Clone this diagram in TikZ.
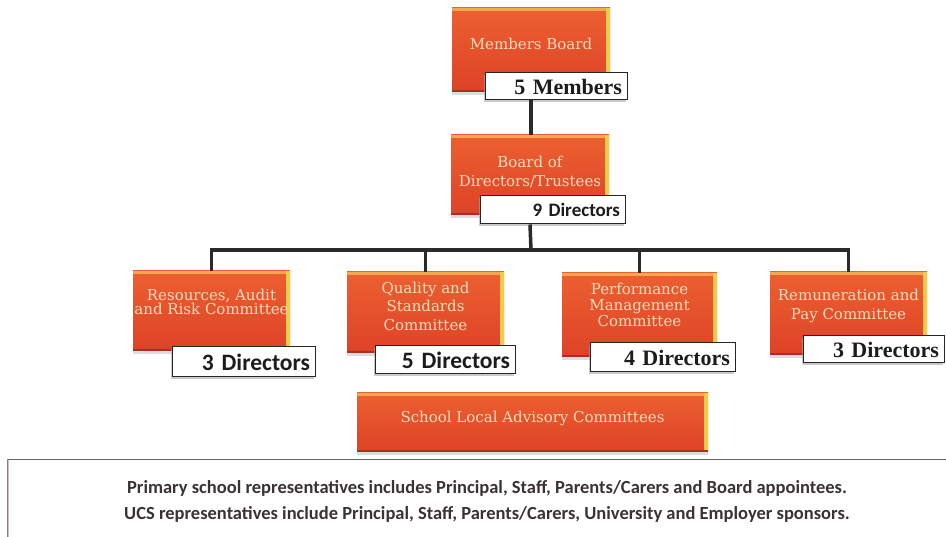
\documentclass[tikz,border=0pt]{standalone}
\usepackage{fontspec}
\setmainfont{Carlito}
\newfontfamily\boxfont{DejaVu Serif}
\newfontfamily\serifl{Liberation Serif}
\newfontfamily\sansl{Carlito}
\usetikzlibrary{shadows}
\definecolor{boxtop}{HTML}{EC6030}
\definecolor{boxbot}{HTML}{DE4227}
\definecolor{boxhi}{HTML}{F7A650}
\definecolor{boxedge}{HTML}{F2CC48}
\definecolor{boxtxt}{HTML}{F5DDBB}
\definecolor{linec}{HTML}{2A2A2A}
\definecolor{labtxt}{HTML}{1C1C1C}
\definecolor{notetxt}{HTML}{3A3333}
\begin{document}
\begin{tikzpicture}[x=1pt,y=-1pt,
  orangebox/.style={rectangle, inner sep=0pt, top color=boxtop, bottom color=boxbot,
    drop shadow={shadow xshift=0pt, shadow yshift=-3pt, fill=blue!15!gray!45, opacity=0.55},
    path picture={
      \fill[boxhi] (path picture bounding box.north west) rectangle ([yshift=-3pt]path picture bounding box.north east);
      \fill[boxedge] ([xshift=-4pt]path picture bounding box.north east) rectangle (path picture bounding box.south east);
      \fill[black!25!boxbot] (path picture bounding box.south west) rectangle ([yshift=2pt]path picture bounding box.south east);
    }},
  boxtext/.style={inner sep=0pt, align=center, text=boxtxt, font=\boxfont\fontsize{15}{18}\selectfont},
  labelbox/.style={rectangle, fill=white, draw=black!85, line width=1pt, inner ysep=0pt, inner xsep=5pt,
    align=right, text=labtxt,
    drop shadow={shadow xshift=-1.5pt, shadow yshift=-2.5pt, fill=black!35, opacity=0.6}},
  labsans/.style={font=\sansl\bfseries\fontsize{23.5}{23.5}\selectfont},
  labserif/.style={font=\serifl\bfseries\fontsize{22}{22}\selectfont},
  conn/.style={draw=linec, line width=3.5pt},
  notebox/.style={rectangle, fill=white, draw=gray!45, line width=1pt, align=center, text=notetxt,
    font=\sansl\bfseries\fontsize{18.5}{26}\selectfont}
]
\useasboundingbox (0,0) rectangle (946,537);

% Members Board
\node[orangebox, minimum width=158pt, minimum height=84pt] (mb) at (531,50) {};
\node[boxtext] (mbt) at (531,44) {Members Board};
\node[labelbox, labserif, minimum width=142pt, text width=132pt, minimum height=27pt] (mbl) at (556,86.5) {5 Members};

% Board of Directors
\node[orangebox, minimum width=158pt, minimum height=80pt] (bd) at (530,175) {};
\node[boxtext] (bdt) at (530,172) {Board of\\Directors/Trustees};
\node[labelbox, font=\sansl\bfseries\fontsize{19}{19}\selectfont, minimum width=145pt, text width=135pt, minimum height=28pt] (bdl) at (552.5,210) {9 Directors};

% Committees
\node[orangebox, minimum width=157pt, minimum height=80pt] (rac) at (211.5,311) {};
\node[boxtext, font=\boxfont\fontsize{15}{14.5}\selectfont] (ract) at (211.5,302) {Resources, Audit\\and Risk Committee};
\node[labelbox, labsans, minimum width=143pt, text width=133pt, minimum height=30pt] (racl) at (243.5,362) {3 Directors};

\node[orangebox, minimum width=157pt, minimum height=81pt] (qsc) at (425.5,312.5) {};
\node[boxtext, font=\boxfont\fontsize{15}{18.5}\selectfont] (qsct) at (425.5,306) {Quality and\\Standards\\Committee};
\node[labelbox, labsans, minimum width=140pt, text width=130pt, minimum height=28pt] (qscl) at (445,360) {5 Directors};

\node[orangebox, minimum width=155pt, minimum height=84pt] (pmc) at (639.5,315) {};
\node[boxtext, font=\boxfont\fontsize{15}{16}\selectfont] (pmct) at (639.5,305) {Performance\\Management\\Committee};
\node[labelbox, labserif, minimum width=145pt, text width=135pt, minimum height=29pt] (pmcl) at (662.5,357.5) {4 Directors};

\node[orangebox, minimum width=157pt, minimum height=83pt] (rpc) at (848.5,313.5) {};
\node[boxtext, font=\boxfont\fontsize{15}{19}\selectfont] (rpct) at (848.5,306) {Remuneration and\\Pay Committee};
\node[labelbox, labserif, minimum width=141pt, text width=131pt, minimum height=27pt] (rpcl) at (873.5,349.5) {3 Directors};

% School Local Advisory Committees
\node[orangebox, minimum width=351pt, minimum height=59pt] (slac) at (532.5,422.5) {};
\node[boxtext] (slact) at (532.5,418) {School Local Advisory Committees};

% Note
\node[notebox, minimum width=958pt, minimum height=82pt] (note) at (487,501)
  {Primary school representatives includes Principal, Staff, Parents/Carers and Board appointees.\\
   UCS representatives include Principal, Staff, Parents/Carers, University and Employer sponsors.};
\draw[black!60, line width=1.5pt] (note.north west) -- (note.north east);
\draw[red!45!black!55, line width=1pt] (note.north west) -- (note.south west);

% Connectors
\coordinate (bus) at (531,250);
\draw[conn] (mbl.south -| mb.south) -- (bd.north -| mb.south);
\draw[conn] (bdl.south -| bd.south) -- (bus);
\draw[conn] (rac.north) |- (bus) -| (rpc.north);
\draw[conn] (qsc.north) -- (qsc.north |- bus);
\draw[conn] (pmc.north) -- (pmc.north |- bus);
\end{tikzpicture}
\end{document}
